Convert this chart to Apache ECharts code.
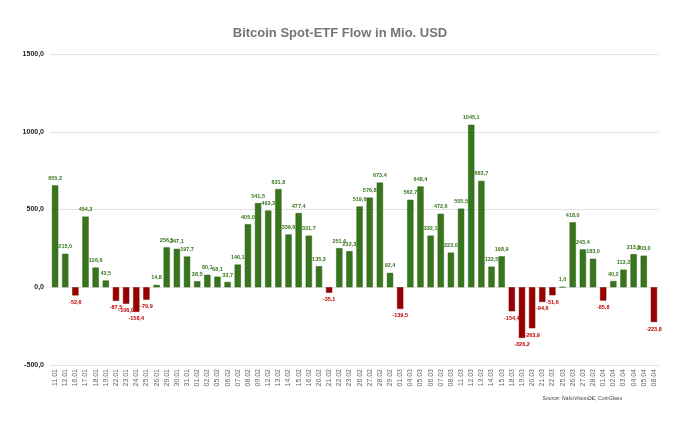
<!DOCTYPE html>
<html><head><meta charset="utf-8">
<script src="https://cdn.jsdelivr.net/npm/echarts@6/dist/echarts.min.js"></script>
<style>html,body{margin:0;padding:0;background:#fff}#c{width:680px;height:423px}</style>
</head><body><div id="c"></div>
<script>
var categories = ["11.01","12.01","16.01","17.01","18.01","19.01","22.01","23.01","24.01","25.01","26.01","29.01","30.01","31.01",
"01.02","02.02","05.02","06.02","07.02","08.02","09.02","12.02","13.02","14.02","15.02","16.02","20.02","21.02","22.02","23.02","26.02","27.02","28.02","29.02",
"01.03","04.03","05.03","06.03","07.03","08.03","11.03","12.03","13.03","14.03","15.03","18.03","19.03","20.03","21.03","22.03","25.03","26.03","27.03","28.03",
"01.04","02.04","03.04","04.04","05.04","08.04"];
var flows = [655.2,215.0,-52.6,454.3,126.6,43.5,-87.5,-106.0,-158.4,-79.9,14.8,256.5,247.1,197.7,
38.5,80.1,68.1,33.7,146.1,405.0,541.5,493.3,631.8,339.6,477.4,331.7,135.3,-35.1,251.4,232.3,519.6,576.8,673.4,92.4,
-139.5,562.7,648.4,332.1,472.6,223.0,505.5,1045.1,683.7,132.5,198.9,-154.4,-326.2,-263.9,-94.6,-51.6,1.0,418.0,243.4,183.0,
-85.8,40.2,113.2,213.0,203.0,-223.8];
var yTicks = [-500,0,500,1000,1500];

function fmt(v){return v.toFixed(1).replace('.',',');}
var data = flows.map(function(v){
  var neg = v < 0;
  return {value:v,
    itemStyle:{color: neg ? '#990000' : '#38761d', borderColor: neg ? '#7a0000' : '#2d5f17', borderWidth:0.5},
    label:{position: neg ? 'bottom' : 'top', color: neg ? '#c00000' : '#38761d'}};
});
var chart = echarts.init(document.getElementById('c'));
chart.setOption({
  animation:false,
  title:{text:'Bitcoin Spot-ETF Flow in Mio. USD', left:'center', top:22,
    textStyle:{fontFamily:'Liberation Sans, Arial', fontSize:13, fontWeight:'bold', color:'#757575'}},
  grid:{left:50, right:21, top:54, bottom:58},
  xAxis:{type:'category', data:categories,
    axisLine:{show:false}, axisTick:{show:false},
    axisLabel:{interval:0, rotate:90, fontSize:7, color:'#666', fontFamily:'Liberation Sans, Arial', margin:4}},
  yAxis:{type:'value', min:yTicks[0], max:yTicks[yTicks.length-1], interval:500,
    axisLine:{show:false}, axisTick:{show:false},
    splitLine:{lineStyle:{color:'#e3e3e3', width:1}},
    axisLabel:{formatter:fmt, fontSize:7, fontWeight:'bold', color:'#222', fontFamily:'Liberation Sans, Arial', margin:6}},
  series:[{type:'bar', data:data, barWidth:'62%',
    label:{show:true, fontSize:5.5, fontWeight:'bold', fontFamily:'Liberation Sans, Arial', distance:4,
      formatter:function(p){return fmt(p.value);}}}],
  graphic:[{type:'text', right:58, top:396,
    style:{text:'Source: NakoVisionDE, CoinGlass', fontSize:5.2, fontStyle:'italic', fill:'#444', fontFamily:'Liberation Sans, Arial'}}]
});
</script></body></html>
